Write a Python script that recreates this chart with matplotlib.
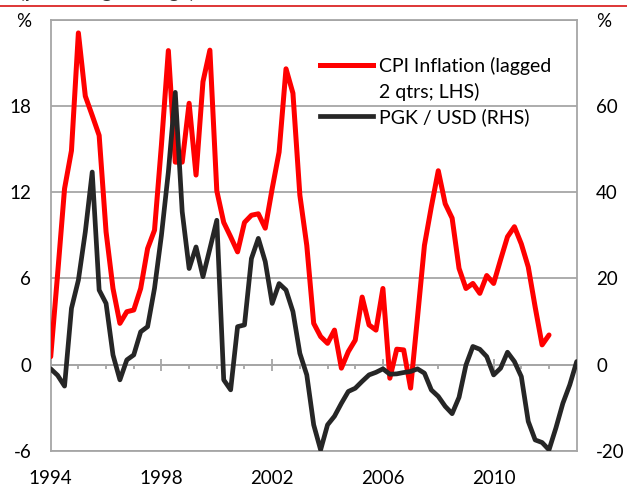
import numpy as np
import matplotlib
matplotlib.use("Agg")
import matplotlib.pyplot as plt
from matplotlib.lines import Line2D

plt.rcParams['font.family'] = ['Lato', 'DejaVu Sans']

# ---------------- data (quarterly, starting 1994 Q1) ----------------
start_year = 1994
cpi_lagged = [0.55, 6.3, 12.25, 14.9, 23.1, 18.7, 17.35, 15.96, 9.24, 5.3,
              2.87, 3.68, 3.8, 5.3, 8.08, 9.36, 15.3, 21.87, 14.1, 14.1,
              18.2, 13.2, 19.7, 21.9, 12.1, 9.9, 8.9, 7.85, 9.9, 10.4,
              10.5, 9.5, 12.25, 14.8, 20.6, 18.9, 11.8, 8.3, 2.87, 1.95,
              1.48, 2.4, -0.25, 0.9, 1.7, 4.7, 2.76, 2.4, 5.3, -0.95,
              1.07, 1.02, -1.64, 3.3, 8.3, 11.0, 13.5, 11.2, 10.2, 6.7,
              5.3, 5.65, 4.96, 6.2, 5.65, 7.3, 8.9, 9.6, 8.4, 6.8,
              4.0, 1.37, 2.06]
pgk_usd = [-1.0, -2.5, -5.0, 13.05, 19.6, 30.8, 44.7, 17.3, 14.2, 2.24,
           -3.55, 1.08, 2.24, 7.6, 8.8, 17.7, 30.0, 44.7, 63.2, 35.5,
           22.3, 27.3, 20.4, 26.9, 33.5, -3.55, -5.87, 8.8, 9.2, 24.6,
           29.3, 23.9, 14.2, 18.8, 17.3, 12.3, 2.6, -2.4, -14.0, -19.8,
           -14.0, -12.0, -9.0, -6.25, -5.5, -3.9, -2.4, -1.8, -1.0, -2.24,
           -2.16, -1.85, -1.6, -1.0, -2.0, -5.9, -7.4, -9.7, -11.4, -7.6,
           -0.1, 4.2, 3.55, 1.85, -2.4, -0.85, 2.86, 0.7, -2.8, -13.2,
           -17.5, -18.1, -19.8, -14.7, -9.0, -4.7, 0.7]

x_cpi = start_year + np.arange(len(cpi_lagged)) / 4.0
x_pgk = start_year + np.arange(len(pgk_usd)) / 4.0

left_ticks = [-6, 0, 6, 12, 18, 24]
left_labels = ['-6', '0', '6', '12', '18', '%']
right_ticks = [-20, 0, 20, 40, 60, 80]
right_labels = ['-20', '0', '20', '40', '60', '%']
year_ticks = [1994, 1998, 2002, 2006, 2010]
label_cpi = ['CPI Inflation (lagged', '2 qtrs; LHS)']
label_pgk = 'PGK / USD (RHS)'
title = 'Inflation and the exchange rate (percentage change)'

# ---------------- styling ----------------
W, H, DPI = 627, 486, 100
grid_c = '#a6a6a6'
red = '#ff0000'
black = '#262626'
fs = 13.5
fs_leg = 14

fig = plt.figure(figsize=(W / DPI, H / DPI), dpi=DPI)
fig.patch.set_facecolor('white')

L, R, T, B = 50.7, 576.7, 20.0, 450.7
ax = fig.add_axes([L / W, 1 - B / H, (R - L) / W, (B - T) / H])
ax.patch.set_visible(False)

ax.set_xlim(1994, 2013)
ax.set_ylim(-6, 24)
ax.set_yticks(left_ticks)
ax.set_yticklabels(left_labels)
ax.set_xticks(year_ticks)
ax.set_xticklabels([str(y) for y in year_ticks])
ax.tick_params(axis='y', length=0, pad=14, labelsize=fs, colors='black')
ax.tick_params(axis='x', length=0, pad=14, labelsize=fs, colors='black')
ax.yaxis.grid(True, color=grid_c, linewidth=1.3)
ax.set_axisbelow(True)
for s in ax.spines.values():
    s.set_color(grid_c)
    s.set_linewidth(1.3)

ax.plot(x_cpi, cpi_lagged, color=red, linewidth=3.6, solid_joinstyle='round',
        solid_capstyle='round', zorder=3)

ax2 = ax.twinx()
ax2.set_ylim(-20, 80)
ax2.set_yticks(right_ticks)
ax2.set_yticklabels(right_labels)
ax2.tick_params(axis='y', length=0, pad=14, labelsize=fs, colors='black')
for s in ax2.spines.values():
    s.set_visible(False)
ax2.plot(x_pgk, pgk_usd, color=black, linewidth=3.4, solid_joinstyle='round',
         solid_capstyle='round', zorder=3)

# zero-line axis with tick marks
axt = ax.twiny()
axt.set_xlim(ax.get_xlim())
for s in axt.spines.values():
    s.set_visible(False)
axt.spines['bottom'].set_visible(True)
axt.spines['bottom'].set_position(('data', 0))
axt.spines['bottom'].set_color(grid_c)
axt.spines['bottom'].set_linewidth(1.3)
axt.xaxis.set_ticks_position('bottom')
axt.set_xticks(year_ticks)
axt.set_xticks(np.arange(1994, 2013), minor=True)
axt.tick_params(which='major', direction='inout', length=9, width=1.3,
                color=grid_c, labelbottom=False, labeltop=False)
axt.tick_params(which='minor', direction='out', length=3, width=1.3,
                color=grid_c, labelbottom=False, labeltop=False)
axt.set_zorder(-1)

# legend
handles = [Line2D([], [], color=red, linewidth=3.6),
           Line2D([], [], color='none', linewidth=0),
           Line2D([], [], color=black, linewidth=3.4)]
labels = [label_cpi[0], label_cpi[1], label_pgk]
leg = ax2.legend(handles, labels, loc='upper left', frameon=False,
                 bbox_to_anchor=(320 / W, 1 - 57 / H),
                 bbox_transform=fig.transFigure, fontsize=fs_leg,
                 handlelength=2.75, handletextpad=0.3, borderpad=0,
                 borderaxespad=0, labelspacing=0.38)

# header rule and clipped title (cut off at the top, as in the source)
fig.add_artist(Line2D([0, 1], [1 - 5.7 / H, 1 - 5.7 / H],
                      transform=fig.transFigure, color='#d40000', linewidth=1.1))
fig.text(195 / W, 1 + 2.0 / H, title, fontsize=14, fontweight='bold',
         va='baseline', ha='right', color='#333333')

fig.savefig('out.png', dpi=DPI, facecolor='white')
